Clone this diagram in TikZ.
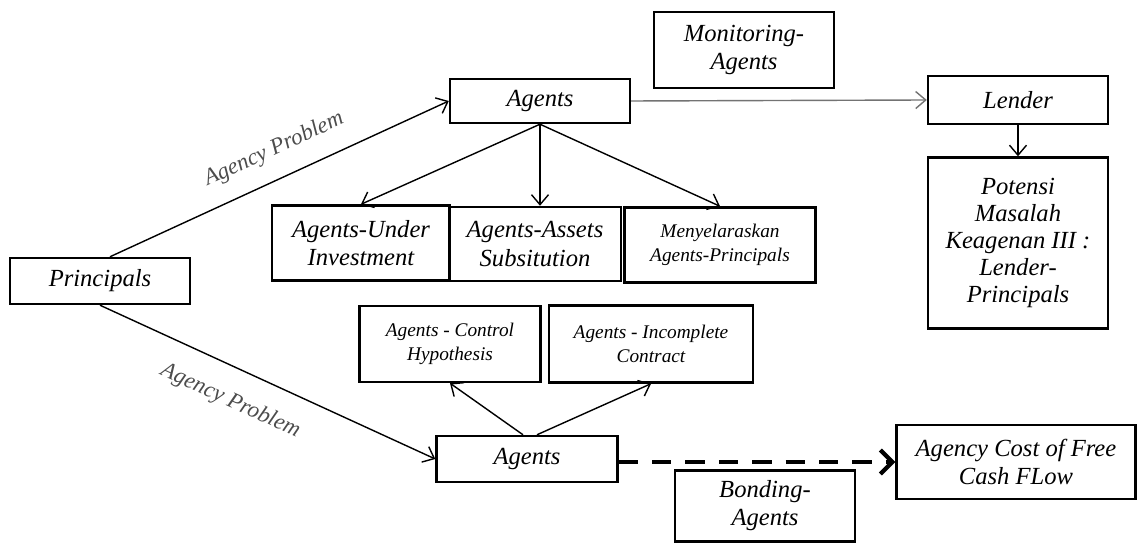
\documentclass[tikz,border=0pt]{standalone}
\usepackage{fontspec}
\setmainfont{Liberation Serif}
\usepackage{tikz}
\usetikzlibrary{arrows.meta,positioning}
\tikzset{
  boxA/.style={ draw, line width=1.4pt, align=center, inner sep=2pt, font=\fontsize{14}{16}\selectfont\itshape }
}
\tikzset{
  boxS/.style={ boxA, font=\fontsize{11}{13.5}\selectfont\itshape }
}
\tikzset{
  lblP/.style={ sloped, text=black!70, font=\fontsize{13}{15}\selectfont\itshape }
}
\tikzset{
  dashA/.style={ line width=2.2pt, dash pattern=on 11pt off 8pt, -{Straight Barb[length=2.4mm,width=4.8mm,line width=2.4pt]} }
}

\begin{document}
\begin{tikzpicture}[x=0.02cm, y=-0.02cm, line width=0.8pt, >={Straight Barb[length=2mm,width=3.4mm]}]
      \useasboundingbox (0,0) rectangle (1137,543);

      \node[boxA, minimum width=3.6cm, minimum height=0.92cm] (principals) at (100,281) {Principals};

      \node[boxA, minimum width=3.6cm, minimum height=0.88cm] (agentsT) at (540,101) {Agents};
      \node[boxA, minimum width=3.6cm, minimum height=1.52cm] (monitor) at (744,50) {Monitoring-\\Agents};
      \node[boxA, minimum width=3.6cm, minimum height=0.96cm] (lender) at (1018,100) {Lender};
      \node[boxA, minimum width=3.6cm, minimum height=3.42cm, font=\fontsize{14}{15.5}\selectfont\itshape] (potensi) at (1018,243) {Potensi\\Masalah\\Keagenan III :\\Lender-\\Principals};

      \node[boxA, minimum width=3.56cm, minimum height=1.5cm] (under) at (361,243) {Agents-Under\\Investment};
      \node[boxA, minimum width=3.44cm, minimum height=1.48cm] (assets) at (535,244) {Agents-Assets\\Subsitution};
      \node[boxS, minimum width=3.82cm, minimum height=1.5cm] (menyel) at (720,245) {Menyelaraskan\\Agents-Principals};

      \node[boxS, minimum width=3.62cm, minimum height=1.52cm] (control) at (450,344) {Agents - Control\\Hypothesis};
      \node[boxS, minimum width=4.08cm, minimum height=1.54cm] (incompl) at (651,344) {Agents - Incomplete\\Contract};

      \node[boxA, minimum width=3.62cm, minimum height=0.92cm] (agentsB) at (527,459) {Agents};
      \node[boxA, minimum width=3.6cm, minimum height=1.42cm] (bonding) at (765,506) {Bonding-\\Agents};
      \node[boxA, minimum width=4.78cm, minimum height=1.48cm] (cost) at (1016,462) {Agency Cost of Free\\Cash FLow};

      \begin{scope}[->]
        \draw ([xshift=0.2cm]principals.north) -- node[lblP, pos=0.52, above=0.24cm] {Agency Problem} (agentsT.west);
        \draw (principals.south) -- node[lblP, pos=0.43, below=0.32cm] {Agency Problem} (agentsB.west);

        \draw (agentsT.south) -- (under.north);
        \draw (agentsT.south) -- (agentsT.south |- assets.north);
        \draw (agentsT.south) -- (menyel.north);

        \draw[black!55] (agentsT.east) -- (lender.west);
        \draw (lender.south) -- (potensi.north);

        \draw ([xshift=-0.08cm]agentsB.north) -- (control.south);
        \draw ([xshift=0.2cm]agentsB.north) -- (incompl.south);
      \end{scope}

      \draw[dashA] (agentsB.east |- cost.west) -- (cost.west);
    \end{tikzpicture}
\end{document}
